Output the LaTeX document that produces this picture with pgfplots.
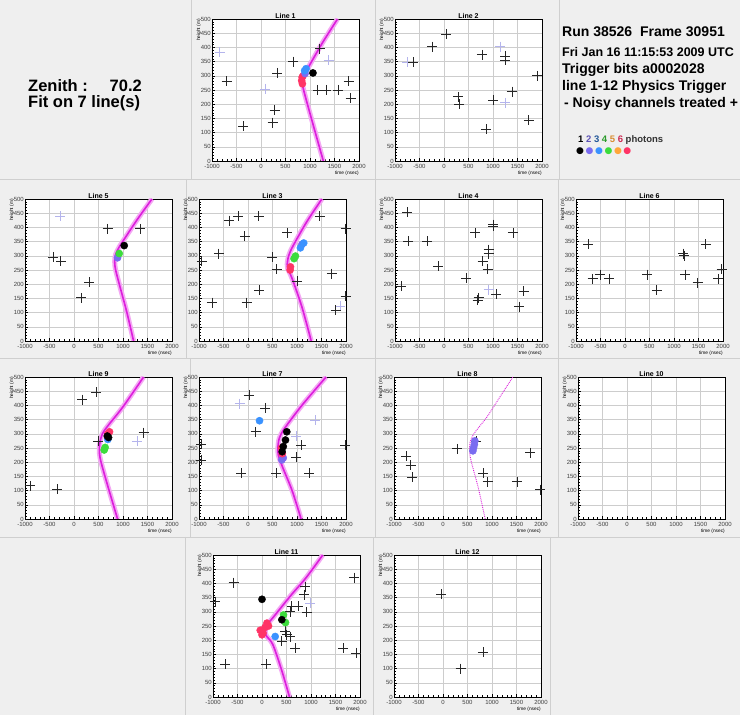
\documentclass[border=0pt]{standalone}
\usepackage{pgfplots}
\pgfplotsset{compat=1.18}
\usepackage{fontspec}
\setmainfont{Liberation Sans}
\newfontfamily\dejavu{DejaVu Sans}

\definecolor{panelbg}{HTML}{EFEFEF}
\definecolor{sepline}{HTML}{CFCFCF}
\definecolor{gridc}{HTML}{CDCDCD}
\definecolor{lav}{HTML}{B4B4EC}
\definecolor{phA}{HTML}{000000}
\definecolor{phB}{HTML}{7A6CF0}
\definecolor{phC}{HTML}{3A92FF}
\definecolor{phD}{HTML}{3CDC3C}
\definecolor{phE}{HTML}{FFA63A}
\definecolor{phF}{HTML}{FF3466}
\definecolor{fitmag}{HTML}{DC1EDC}
\definecolor{fitband}{HTML}{F4A8F4}

\newcommand\tk{\fontsize{6}{7}\selectfont}
\newcommand\ax{\fontsize{4.8}{5}\selectfont}

\pgfplotsset{
  evt/.style={
    scale only axis, width=147pt, height=142pt, anchor=north west,
    xmin=-1000, xmax=2000, ymin=0, ymax=500,
    xtick={-1000,-500,...,2000}, ytick={0,50,...,500},
    minor x tick num=4, minor y tick num=4,
    xtick pos=lower, ytick pos=left,
    grid=major, major grid style={gridc, line width=0.45pt},
    tick align=inside, major tick length=3pt, minor tick length=1.5pt,
    tick style={black, line width=0.4pt},
    axis line style={line width=0.8pt},
    axis background/.style={fill=white},
    tick label style={font=\tk, text=black!75},
    xticklabel style={inner sep=1pt, yshift=-2pt},
    yticklabel style={inner sep=1pt},
    /pgf/number format/assume math mode=true,
    /pgf/number format/1000 sep={},
    scaled ticks=false,
    every axis title shift=0pt,
    title style={font=\fontsize{7}{8}\selectfont\bfseries, at={(0.5,1)}, anchor=south, inner sep=0.6pt},
    xlabel={time (nsec)}, ylabel={height (m)},
    xlabel style={font=\ax, at={(axis description cs:1,0)}, anchor=north east, yshift=-9.5pt, inner sep=0pt},
    ylabel style={font=\ax, at={(axis description cs:-0.09,1)}, anchor=east, inner sep=0pt},
  },
  hit/.style={only marks, mark=+, mark size=5pt, color=black!85, mark options={line width=0.7pt}},
  faint/.style={only marks, mark=+, mark size=5pt, color=lav, mark options={line width=0.7pt}},
  ph/.style={only marks, mark=*, mark size=3.6pt, color=#1, mark options={fill=#1, draw=#1}},
  fitbandstyle/.style={no marks, smooth, tension=0.5, line width=5pt, color=fitband},
  fitline/.style={no marks, smooth, tension=0.5, line width=1.6pt, color=fitmag},
}

\begin{document}
\begin{tikzpicture}[x=1pt,y=1pt]
\useasboundingbox (0,0) rectangle (740,715);
\fill[panelbg] (0,0) rectangle (740,715);

% pad separators
\begin{scope}[sepline, line width=0.8pt]
  \draw (0,536) -- (740,536);
  \draw (0,357) -- (740,357);
  \draw (0,178) -- (740,178);
  \draw (191,715) -- (191,536);  \draw (375,715) -- (375,536);  \draw (559,715) -- (559,536);
  \draw (186,536) -- (186,357);  \draw (375,536) -- (375,357);  \draw (558,536) -- (558,357);
  \draw (190,357) -- (190,178);  \draw (375,357) -- (375,178);  \draw (558,357) -- (558,178);
  \draw (185,178) -- (185,0);    \draw (373,178) -- (373,0);    \draw (550,178) -- (550,0);
\end{scope}

% event summary
\begin{scope}[every node/.style={inner sep=0pt, anchor=base west}]
  \node[font=\fontsize{16.5}{18}\selectfont\bfseries] at (28,623) {Zenith :};
  \node[font=\fontsize{16.5}{18}\selectfont\bfseries, anchor=base east] at (142,623) {70.2};
  \node[font=\fontsize{16.5}{18}\selectfont\bfseries] at (28,607) {Fit on 7 line(s)};

  \node[font=\fontsize{14}{16}\selectfont\bfseries] at (562,678) {Run 38526\ \ Frame 30951};
  \node[font=\fontsize{12.5}{14}\selectfont\bfseries] at (562,658.5) {Fri Jan 16 11:15:53 2009 UTC};
  \node[font=\fontsize{14}{16}\selectfont\bfseries] at (562,641) {Trigger bits a0002028};
  \node[font=\fontsize{14}{16}\selectfont\bfseries] at (562,624) {line 1-12 Physics Trigger};
  \node[font=\fontsize{14}{16}\selectfont\bfseries] at (564,607) {- Noisy channels treated +};

  \node[font=\fontsize{9.5}{11}\selectfont\bfseries] at (578,572) {%
    \textcolor{phA}{1} \textcolor{phB!75!black}{2} \textcolor{phC!60!black}{3} \textcolor{phD!70!black}{4} \textcolor{phE!85!black}{5} \textcolor{phF!80!black}{6} \textcolor{black!80}{photons}};
  \node[anchor=west, font=\dejavu\fontsize{9}{9}\selectfont] at (576,564) {%
    \textcolor{phA}{●}\kern1.6pt\textcolor{phB}{●}\kern1.6pt\textcolor{phC}{●}\kern1.6pt\textcolor{phD}{●}\kern1.6pt\textcolor{phE}{●}\kern1.6pt\textcolor{phF}{●}};
\end{scope}

% ---------------- Line 1
\begin{axis}[evt, at={(212pt,696pt)}, title={Line 1}]
\addplot[fitbandstyle] coordinates {(1272,0) (1060,130) (900,230) (850,265) (842,282) (865,300) (950,325) (1250,415) (1562,500)};
\addplot[fitline] coordinates {(1272,0) (1060,130) (900,230) (850,265) (842,282) (865,300) (950,325) (1250,415) (1562,500)};
\addplot[faint] coordinates {(-845,383) (1380,354) (80,254)};
\addplot[hit] coordinates {(1200,395) (650,350) (335,310) (-700,280) (1160,250) (1330,250) (1575,250) (1790,280) (1830,222) (280,180) (235,135) (-360,123)};
\addplot[ph=phF] coordinates {(840,295) (830,283) (845,272) (860,300)};
\addplot[ph=phB] coordinates {(900,308)};
\addplot[ph=phC] coordinates {(890,318) (920,325)};
\addplot[ph=phA] coordinates {(1060,310)};
\end{axis}

% ---------------- Line 2
\begin{axis}[evt, at={(395pt,696pt)}, title={Line 2}]
\addplot[faint] coordinates {(-750,347) (1150,403) (1250,205)};
\addplot[hit] coordinates {(45,447) (-235,403) (-625,347) (775,374) (1250,370) (1250,356) (1900,300) (295,226) (315,200) (1010,215) (1385,244) (1730,144) (855,112)};
\end{axis}

% ---------------- Line 5
\begin{axis}[evt, at={(25pt,516pt)}, title={Line 5}]
\addplot[fitbandstyle] coordinates {(1216,0) (1080,100) (940,190) (850,250) (830,280) (850,305) (920,330) (1050,365) (1300,430) (1591,500)};
\addplot[fitline] coordinates {(1216,0) (1080,100) (940,190) (850,250) (830,280) (850,305) (920,330) (1050,365) (1300,430) (1591,500)};
\addplot[faint] coordinates {(-285,439)};
\addplot[hit] coordinates {(685,395) (1350,395) (-420,296) (-270,281) (315,207) (145,152)};
\addplot[ph=phB] coordinates {(889,293)};
\addplot[ph=phD] coordinates {(923,308)};
\addplot[ph=phA] coordinates {(1025,336)};
\end{axis}

% ---------------- Line 3
\begin{axis}[evt, at={(199pt,516pt)}, title={Line 3}]
\addplot[fitbandstyle] coordinates {(1290,0) (1100,120) (900,220) (810,255) (800,270) (830,300) (920,335) (1200,420) (1508,500)};
\addplot[fitline] coordinates {(1290,0) (1100,120) (900,220) (810,255) (800,270) (830,300) (920,335) (1200,420) (1508,500)};
\addplot[faint] coordinates {(1880,123)};
\addplot[hit] coordinates {(-380,424) (-200,439) (215,439) (1461,439) (1990,395) (-65,369) (-595,308) (-945,281) (497,295) (585,252) (800,381) (1000,211) (227,178) (-30,135) (-737,135) (1710,237) (1990,158) (1790,109)};
\addplot[ph=phF] coordinates {(860,250) (867,261)};
\addplot[ph=phD] coordinates {(940,290) (969,299)};
\addplot[ph=phB] coordinates {(1100,340)};
\addplot[ph=phC] coordinates {(1070,328) (1137,345)};
\end{axis}

% ---------------- Line 4
\begin{axis}[evt, at={(395pt,516pt)}, title={Line 4}]
\addplot[faint] coordinates {(909,181)};
\addplot[hit] coordinates {(-750,453) (-727,351) (-340,351) (-115,263) (-877,193) (452,222) (636,381) (1000,410) (1010,404) (1407,381) (909,322) (909,307) (786,281) (889,252) (705,152) (685,144) (1066,164) (1625,176) (1536,121)};
\end{axis}

% ---------------- Line 6
\begin{axis}[evt, at={(576pt,516pt)}, title={Line 6}]
\addplot[hit] coordinates {(-750,340) (-662,219) (-513,234) (-324,220) (453,234) (649,179) (1189,308) (1210,301) (1230,234) (1480,205) (1649,340) (1905,219) (1973,252)};
\end{axis}

% ---------------- Line 9
\begin{axis}[evt, at={(25pt,338pt)}, title={Line 9}]
\addplot[fitbandstyle] coordinates {(889,0) (700,110) (560,195) (520,230) (525,265) (580,300) (700,330) (1000,395) (1420,500)};
\addplot[fitline] coordinates {(889,0) (700,110) (560,195) (520,230) (525,265) (580,300) (700,330) (1000,395) (1420,500)};
\addplot[faint] coordinates {(1284,274)};
\addplot[hit] coordinates {(452,447) (173,420) (1420,304) (500,274) (-898,117) (-339,105)};
\addplot[ph=phF] coordinates {(725,307) (690,300)};
\addplot[ph=phC] coordinates {(690,280)};
\addplot[ph=phA] coordinates {(705,287) (680,292)};
\addplot[ph=phD] coordinates {(636,252) (616,243)};
\end{axis}

% ---------------- Line 7
\begin{axis}[evt, at={(199pt,338pt)}, title={Line 7}]
\addplot[fitbandstyle] coordinates {(1084,0) (900,100) (700,185) (620,225) (610,250) (640,285) (750,320) (1100,400) (1593,500)};
\addplot[fitline] coordinates {(1084,0) (900,100) (700,185) (620,225) (610,250) (640,285) (750,320) (1100,400) (1593,500)};
\addplot[faint] coordinates {(-172,406) (1375,348) (982,292)};
\addplot[hit] coordinates {(18,436) (351,391) (154,307) (-952,263) (-952,208) (-138,161) (575,161) (1253,161) (1084,260) (982,217) (1980,260)};
\addplot[ph=phB] coordinates {(690,208) (720,215)};
\addplot[ph=phF] coordinates {(680,250) (700,230)};
\addplot[ph=phA] coordinates {(792,307) (765,278) (697,237) (720,255)};
\addplot[ph=phC] coordinates {(235,346)};
\end{axis}

% ---------------- Line 8
\begin{axis}[evt, at={(394pt,338pt)}, title={Line 8}]
\addplot[no marks, smooth, tension=0.5, densely dotted, line width=0.9pt, color=fitmag] coordinates {(861,0) (720,110) (580,200) (540,240) (560,275) (650,305) (900,360) (1200,440) (1427,500)};
\addplot[hit] coordinates {(-755,221) (-659,190) (-625,147) (295,247) (677,274) (814,161) (909,131) (1509,131) (1782,233) (1986,103)};
\addplot[ph=phB] coordinates {(623,251) (640,262) (610,240) (650,275)};
\end{axis}

% ---------------- Line 10
\begin{axis}[evt, at={(578pt,338pt)}, title={Line 10}]
\addplot[draw=none] coordinates {(0,0)};
\end{axis}

% ---------------- Line 11
\begin{axis}[evt, at={(213pt,160pt)}, title={Line 11}]
\addplot[fitbandstyle] coordinates {(561,0) (400,95) (220,185) (90,215) (70,232) (110,255) (250,285) (600,360) (900,420) (1240,500)};
\addplot[fitline] coordinates {(561,0) (400,95) (220,185) (90,215) (70,232) (110,255) (250,285) (600,360) (900,420) (1240,500)};
\addplot[faint] coordinates {(982,330)};
\addplot[hit] coordinates {(-579,403) (-952,336) (1878,420) (880,389) (860,360) (609,319) (575,301) (744,319) (914,299) (473,231) (507,219) (405,196) (575,213) (676,172) (1660,172) (1918,155) (-749,116) (86,116)};
\addplot[ph=phF] coordinates {(-36,235) (20,225) (60,245) (100,260) (0,219) (133,250)};
\addplot[ph=phC] coordinates {(269,213)};
\addplot[ph=phD] coordinates {(439,289) (480,262)};
\addplot[ph=phA] coordinates {(0,344) (405,272)};
\end{axis}

% ---------------- Line 12
\begin{axis}[evt, at={(394pt,160pt)}, title={Line 12}]
\addplot[hit] coordinates {(-32,362) (815,158) (361,100)};
\end{axis}
\end{tikzpicture}
\end{document}
